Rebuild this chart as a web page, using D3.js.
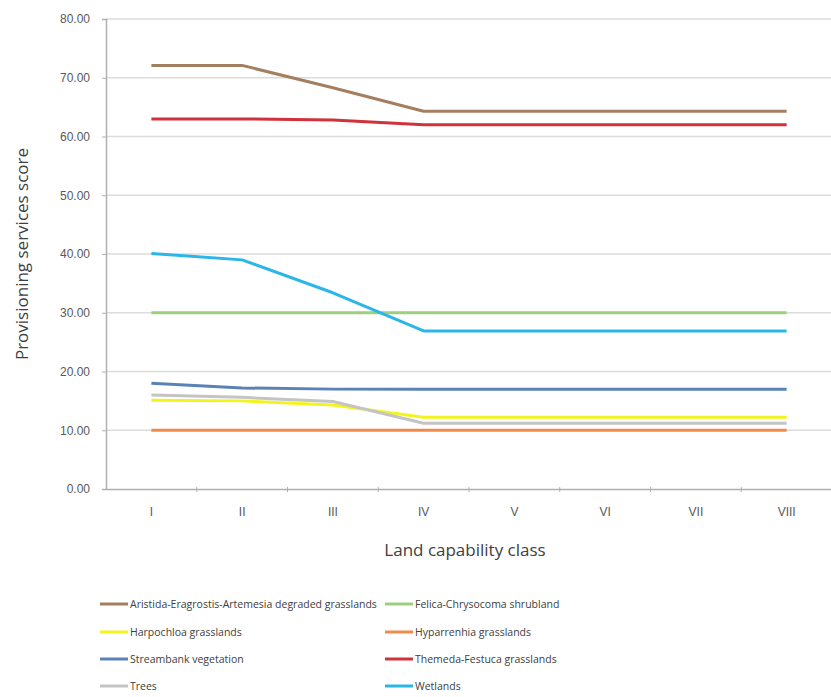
<!DOCTYPE html>
<html>
<head>
<meta charset="utf-8">
<script src="https://cdn.jsdelivr.net/npm/d3@7"></script>
<style>
  html, body { margin: 0; padding: 0; background: #fff; }
  svg { display: block; font-family: "Open Sans", "Liberation Sans", sans-serif; }
</style>
</head>
<body>
<svg id="chart" width="831" height="697"></svg>
<script>
// Land capability classes on the x axis
const classes = ["I", "II", "III", "IV", "V", "VI", "VII", "VIII"];

// Provisioning services score per vegetation type
const aristida    = [72.1, 72.1, 68.3, 64.3, 64.3, 64.3, 64.3, 64.3];
const felica      = [30.0, 30.0, 30.0, 30.0, 30.0, 30.0, 30.0, 30.0];
const harpochloa  = [15.1, 15.0, 14.3, 12.2, 12.2, 12.2, 12.2, 12.2];
const hyparrhenia = [10.0, 10.0, 10.0, 10.0, 10.0, 10.0, 10.0, 10.0];
const streambank  = [18.0, 17.2, 17.0, 17.0, 17.0, 17.0, 17.0, 17.0];
const themeda     = [63.0, 63.0, 62.8, 62.0, 62.0, 62.0, 62.0, 62.0];
const trees       = [16.0, 15.6, 14.9, 11.2, 11.2, 11.2, 11.2, 11.2];
const wetlands    = [40.1, 39.0, 33.4, 26.9, 26.9, 26.9, 26.9, 26.9];

const seriesNames = [
  "Aristida-Eragrostis-Artemesia degraded grasslands",
  "Felica-Chrysocoma shrubland",
  "Harpochloa grasslands",
  "Hyparrenhia grasslands",
  "Streambank vegetation",
  "Themeda-Festuca grasslands",
  "Trees",
  "Wetlands"
];
const seriesValues = [aristida, felica, harpochloa, hyparrhenia, streambank, themeda, trees, wetlands];
const seriesColors = ["#a47f5f", "#9dd07c", "#f2f51c", "#f08a4b", "#5b82b8", "#d0323c", "#c4c4c4", "#2bb6ea"];

const yTicks = [0, 10, 20, 30, 40, 50, 60, 70, 80];

const svg = d3.select("#chart");
const plot = { left: 106, right: 832, top: 19, bottom: 489 };

const x = d3.scaleBand().domain(classes).range([plot.left, plot.right]).padding(0);
const y = d3.scaleLinear().domain([0, 80]).range([plot.bottom, plot.top]);

// horizontal gridlines
svg.append("g")
  .selectAll("line")
  .data(yTicks.filter(d => d > 0))
  .join("line")
  .attr("x1", plot.left).attr("x2", plot.right)
  .attr("y1", d => y(d)).attr("y2", d => y(d))
  .attr("stroke", "#dcdcdc").attr("stroke-width", 1.5);

// y axis
const yAxis = svg.append("g")
  .attr("transform", `translate(${plot.left},0)`)
  .call(d3.axisLeft(y).tickValues(yTicks).tickFormat(d3.format(".2f")).tickSize(4).tickPadding(12));
yAxis.select(".domain").attr("stroke", "#b0b0b0").attr("stroke-width", 1.5);
yAxis.selectAll(".tick line").attr("stroke", "#b0b0b0");
yAxis.selectAll("text").attr("fill", "#595959").attr("font-size", 12);

// x axis with ticks at category boundaries
const xAxis = svg.append("g")
  .attr("transform", `translate(0,${plot.bottom})`)
  .call(d3.axisBottom(x).tickSize(0).tickPadding(18));
xAxis.select(".domain").attr("stroke", "#b0b0b0").attr("stroke-width", 1.5);
xAxis.selectAll("text").attr("fill", "#595959").attr("font-size", 12);
xAxis.append("g")
  .selectAll("line")
  .data(classes.slice(1))
  .join("line")
  .attr("x1", d => x(d)).attr("x2", d => x(d))
  .attr("y1", -2).attr("y2", 3)
  .attr("stroke", "#b0b0b0");

// series lines
const line = d3.line()
  .x((d, i) => x(classes[i]) + x.bandwidth() / 2)
  .y(d => y(d));

svg.append("g")
  .selectAll("path")
  .data(seriesValues)
  .join("path")
  .attr("d", d => line(d))
  .attr("fill", "none")
  .attr("stroke", (d, i) => seriesColors[i])
  .attr("stroke-width", 3)
  .attr("stroke-linejoin", "round");

// axis titles
svg.append("text")
  .attr("x", (plot.left + plot.right) / 2 - 4)
  .attr("y", 556)
  .attr("text-anchor", "middle")
  .attr("fill", "#404040")
  .attr("font-size", 17)
  .text("Land capability class");

svg.append("text")
  .attr("transform", `translate(28,${(plot.top + plot.bottom) / 2}) rotate(-90)`)
  .attr("text-anchor", "middle")
  .attr("fill", "#404040")
  .attr("font-size", 17)
  .text("Provisioning services score");

// legend: two columns, four rows
const legend = svg.append("g");
const rowY = [604, 632, 659, 686];
const colX = [100, 385];
const items = legend.selectAll("g")
  .data(seriesNames)
  .join("g")
  .attr("transform", (d, i) => `translate(${colX[i % 2]},${rowY[Math.floor(i / 2)]})`);
items.append("line")
  .attr("x1", 0).attr("x2", 28)
  .attr("stroke", (d, i) => seriesColors[i])
  .attr("stroke-width", 3);
items.append("text")
  .attr("x", 30).attr("dy", "0.35em")
  .attr("fill", "#404040")
  .attr("font-size", 10.5)
  .text(d => d);
</script>
</body>
</html>
